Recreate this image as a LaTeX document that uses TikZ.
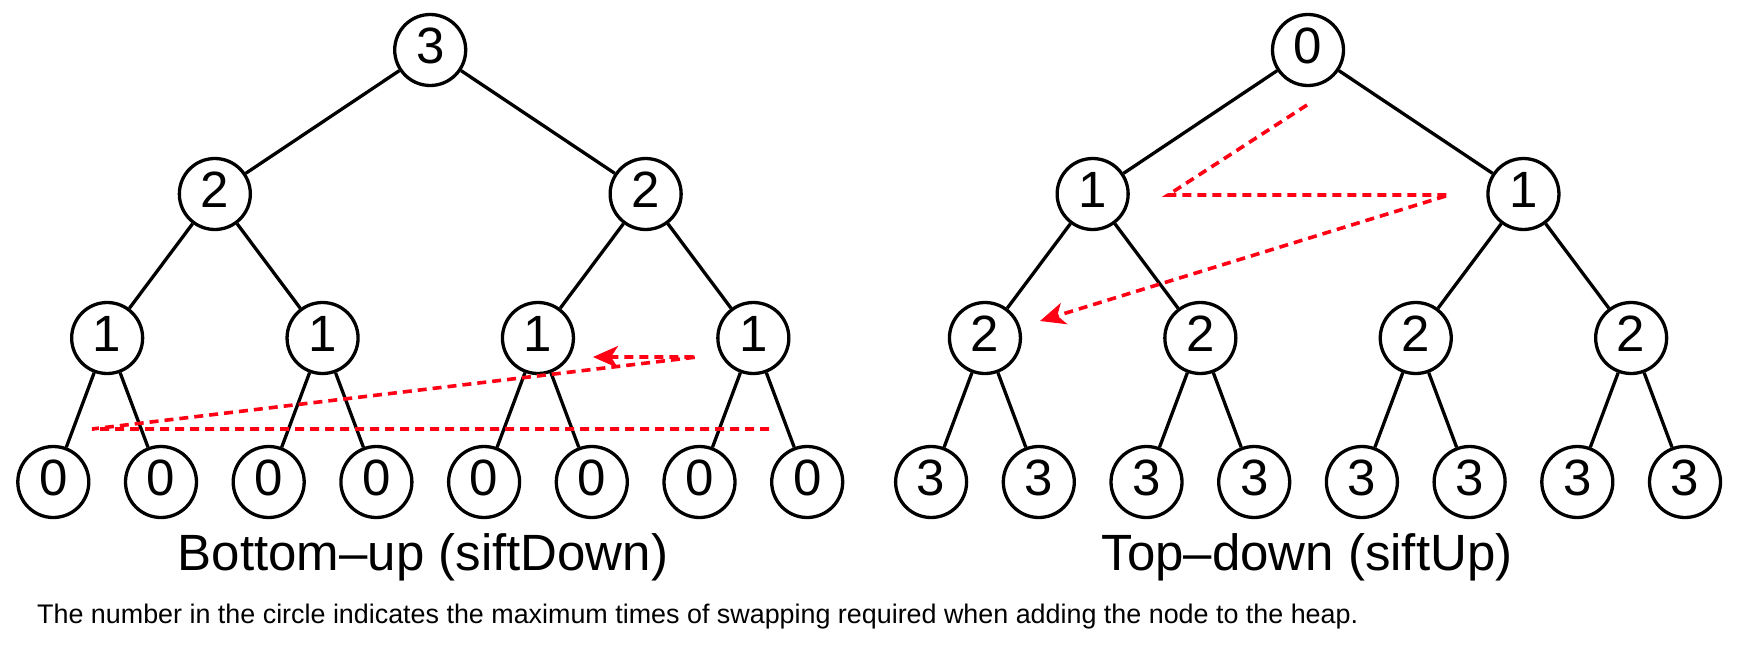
\documentclass[tikz,border=0pt]{standalone}
\usepackage{fontspec}
\setmainfont{Liberation Sans}
\usetikzlibrary{arrows.meta}
\definecolor{arrred}{RGB}{255,0,20}
\begin{document}
\begin{tikzpicture}[x=1pt,y=-1pt,
  hn/.style={circle,draw,line width=3.3pt,minimum size=71pt,inner sep=0pt,
    font=\fontsize{51}{51}\selectfont,text height=36pt,text depth=10pt},
  edge/.style={line width=3.3pt},
  redpath/.style={draw=arrred,line width=3.6pt,dash pattern=on 9pt off 6pt},
  redtip/.style={-{Stealth[length=25pt,width=22pt,inset=7pt]}},
  title/.style={font=\fontsize{51}{51}\selectfont,anchor=base,inner sep=0pt}
]
\useasboundingbox (0,0) rectangle (1738,648);

% ---------- left tree (bottom-up) ----------
\foreach \i in {0,...,7} \node[hn] (la\i) at ({53.3+107.7*\i},482) {0};
\foreach \i in {0,...,3} \node[hn] (lb\i) at ({107.15+215.4*\i},338) {1};
\foreach \i in {0,1} \node[hn] (lc\i) at ({214.85+430.8*\i},194) {2};
\node[hn] (ld0) at (430.2,50) {3};

\foreach \i in {0,...,3} {
  \pgfmathtruncatemacro\a{2*\i}
  \pgfmathtruncatemacro\b{2*\i+1}
  \draw[edge] (lb\i) -- (la\a);
  \draw[edge] (lb\i) -- (la\b);
}
\foreach \i in {0,1} {
  \pgfmathtruncatemacro\a{2*\i}
  \pgfmathtruncatemacro\b{2*\i+1}
  \draw[edge] (lc\i) -- (lb\a);
  \draw[edge] (lc\i) -- (lb\b);
}
\draw[edge] (ld0) -- (lc0);
\draw[edge] (ld0) -- (lc1);

% ---------- right tree (top-down) ----------
\foreach \i in {0,...,7} \node[hn] (ra\i) at ({931.1+107.7*\i},482) {3};
\foreach \i in {0,...,3} \node[hn] (rb\i) at ({984.95+215.4*\i},338) {2};
\foreach \i in {0,1} \node[hn] (rc\i) at ({1092.65+430.8*\i},194) {1};
\node[hn] (rd0) at (1308,50) {0};

\foreach \i in {0,...,3} {
  \pgfmathtruncatemacro\a{2*\i}
  \pgfmathtruncatemacro\b{2*\i+1}
  \draw[edge] (rb\i) -- (ra\a);
  \draw[edge] (rb\i) -- (ra\b);
}
\foreach \i in {0,1} {
  \pgfmathtruncatemacro\a{2*\i}
  \pgfmathtruncatemacro\b{2*\i+1}
  \draw[edge] (rc\i) -- (rb\a);
  \draw[edge] (rc\i) -- (rb\b);
}
\draw[edge] (rd0) -- (rc0);
\draw[edge] (rd0) -- (rc1);

% ---------- red dashed traversal paths ----------
\coordinate (p1) at (769,429);
\coordinate (p2) at (92,429);
\coordinate (p3) at (697,357);
\coordinate (p4) at (593,357);
\draw[redpath,redtip] (p1) -- (p2) -- (p3) -- (p4);

\coordinate (q1) at (1307,105);
\coordinate (q2) at (1168,195);
\coordinate (q3) at (1449,195);
\coordinate (q4) at (1040,321);
\draw[redpath,redtip] (q1) -- (q2) -- (q3) -- (q4);

% ---------- titles and caption ----------
\node[title] (lt) at (423,570) {Bottom–up (siftDown)};
\node[title] (rt) at (1307,570) {Top–down (siftUp)};
\node[anchor=base west,inner sep=0pt] (cap) at (37,623)
  {\resizebox{1321pt}{!}{\fontsize{24}{24}\selectfont The number in the circle indicates the maximum times of swapping required when adding the node to the heap.}};
\end{tikzpicture}
\end{document}
